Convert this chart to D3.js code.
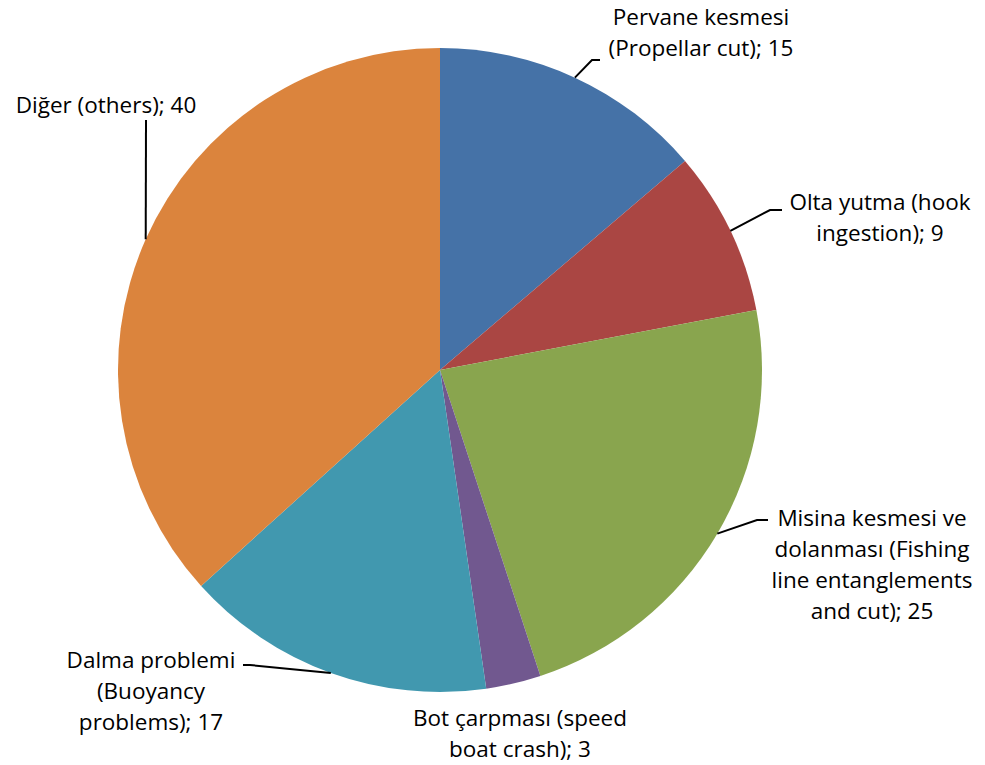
<!DOCTYPE html>
<html>
<head>
<meta charset="utf-8">
<script src="https://cdn.jsdelivr.net/npm/d3@7.9.0/dist/d3.min.js"></script>
<style>
  html, body { margin: 0; padding: 0; background: #fff; }
  svg { display: block; }
  text { font-family: "Open Sans", Lato, sans-serif; font-size: 22.5px; fill: #000; }
</style>
</head>
<body>
<svg id="chart" width="985" height="765"></svg>
<script>
// slices, clockwise from 12 o'clock
const categories = [
  ['Pervane kesmesi', '(Propellar cut); 15'],
  ['Olta yutma (hook', 'ingestion); 9'],
  ['Misina kesmesi ve', 'dolanması (Fishing', 'line entanglements', 'and cut); 25'],
  ['Bot çarpması (speed', 'boat crash); 3'],
  ['Dalma problemi', '(Buoyancy', 'problems); 17'],
  ['Diğer (others); 40']
];
const values = [15, 9, 25, 3, 17, 40];
const colors = ['#4572A7', '#AA4643', '#89A54E', '#71588F', '#4198AF', '#DB843D'];

// label placement: block centre x, first baseline y, and the leader bend (null = no leader)
const labelLayout = [
  { x: 701, y: 25, bend: [592, 60], end: [600, 60] },
  { x: 880, y: 210, bend: [770, 210], end: [782, 210] },
  { x: 872, y: 526, bend: [757, 520], end: [768, 520] },
  { x: 520, y: 726, bend: null },
  { x: 151, y: 668, bend: [250, 665], end: [243, 665] },
  { x: 106, y: 113, bend: [146, 120], end: [146, 120] }
];

const cx = 440, cy = 370, radius = 322, lineH = 31;
const svg = d3.select('#chart');
const g = svg.append('g').attr('transform', `translate(${cx},${cy})`);

const pie = d3.pie().sort(null).value(d => d);
const arcData = pie(values);
const arcGen = d3.arc().innerRadius(0).outerRadius(radius);
const edgeArc = d3.arc().innerRadius(radius).outerRadius(radius);

g.selectAll('path.slice')
  .data(arcData)
  .join('path')
  .attr('class', 'slice')
  .attr('d', arcGen)
  .attr('fill', (d, i) => colors[i]);

arcData.forEach((d, i) => {
  const lay = labelLayout[i];
  if (lay.bend) {
    const [px, py] = edgeArc.centroid(d);
    const pts = [[px + cx, py + cy], lay.bend, lay.end];
    svg.append('path')
      .attr('d', d3.line()(pts))
      .attr('fill', 'none')
      .attr('stroke', '#000')
      .attr('stroke-width', 2);
  }
  const t = svg.append('text')
    .attr('text-anchor', 'middle')
    .attr('x', lay.x)
    .attr('y', lay.y);
  categories[i].forEach((line, j) => {
    t.append('tspan')
      .attr('x', lay.x)
      .attr('y', lay.y + j * lineH)
      .text(line);
  });
});
</script>
</body>
</html>
